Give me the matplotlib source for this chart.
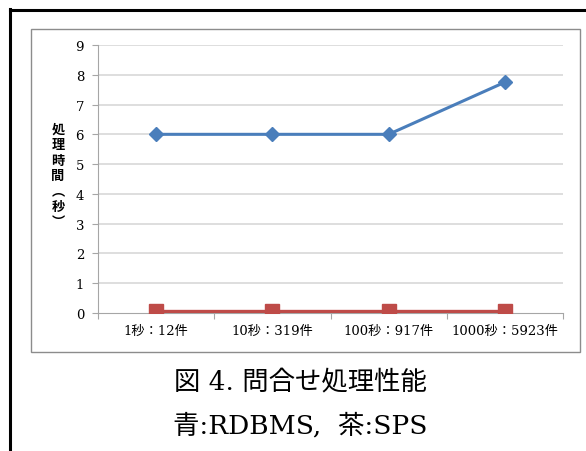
import matplotlib
matplotlib.use("Agg")
import matplotlib.pyplot as plt
from matplotlib.patches import Rectangle
from matplotlib.lines import Line2D

categories = ["1秒：12件", "10秒：319件", "100秒：917件", "1000秒：5923件"]
rdbms = [6.0, 6.0, 6.0, 7.75]
sps = [0.08, 0.08, 0.08, 0.08]
yticks = [0, 1, 2, 3, 4, 5, 6, 7, 8, 9]

W, H = 586, 452
fig = plt.figure(figsize=(W / 100, H / 100), dpi=100)
fig.patch.set_facecolor("white")

serif_jp = ["DejaVu Serif", "Noto Sans CJK JP"]

# outer page frame (left and top edges)
fig.add_artist(Line2D([10 / W, 10 / W], [0, 1 - 10 / H], transform=fig.transFigure,
                      color="black", lw=2.2))
fig.add_artist(Line2D([10 / W, 1], [1 - 10.5 / H, 1 - 10.5 / H], transform=fig.transFigure,
                      color="black", lw=2.2))

# chart area border
fig.add_artist(Rectangle((31 / W, 1 - 353 / H), (580 - 31) / W, (353 - 30) / H,
                         transform=fig.transFigure, fill=False, ec="#8c8c8c", lw=1.0))

ax = fig.add_axes([98 / W, 1 - 314 / H, (563 - 98) / W, (314 - 46) / H])
x = list(range(len(categories)))
ax.set_xlim(-0.5, len(categories) - 0.5)
ax.set_ylim(0, 9)

for v in yticks[1:]:
    ax.axhline(v, color="#d4d4d4", lw=1.1, zorder=1)

ax.plot(x, rdbms, color="#4a7ebb", lw=2.2, marker="D", markersize=7.5, zorder=3)
ax.plot(x, sps, color="#be4b48", lw=2.4, marker="s", markersize=10, zorder=3)

for s in ["top", "right"]:
    ax.spines[s].set_visible(False)
ax.spines["left"].set_color("#a6a6a6")
ax.spines["bottom"].set_color("#a6a6a6")

ax.set_yticks(yticks)
ax.set_yticklabels([str(v) for v in yticks], fontfamily="DejaVu Serif", fontsize=9.5)
ax.tick_params(axis="y", length=4, color="#a6a6a6", pad=6)

ax.set_xticks([i - 0.5 for i in range(len(categories) + 1)], minor=False)
ax.set_xticklabels([""] * (len(categories) + 1))
ax.set_xticks(x, minor=True)
ax.set_xticklabels(categories, minor=True, fontsize=9.5)
for lab in ax.get_xticklabels(minor=True):
    lab.set_fontfamily(serif_jp)
ax.tick_params(axis="x", which="major", length=4, color="#a6a6a6")
ax.tick_params(axis="x", which="minor", length=0, pad=8)

# vertical axis title
fig.text(58 / W, 1 - 176 / H, "処\n理\n時\n間\n︵\n秒\n︶", ha="center", va="center",
         fontsize=9.5, fontweight="bold", fontfamily="Noto Sans CJK JP", linespacing=1.12)

fig.text(300 / W, 1 - 383 / H, "図 4. 問合せ処理性能", ha="center", va="center",
         fontsize=19, fontfamily=serif_jp)
fig.text(300 / W, 1 - 426 / H, "青:RDBMS,  茶:SPS", ha="center", va="center",
         fontsize=19, fontfamily=serif_jp)

fig.savefig("out.png", dpi=100)
